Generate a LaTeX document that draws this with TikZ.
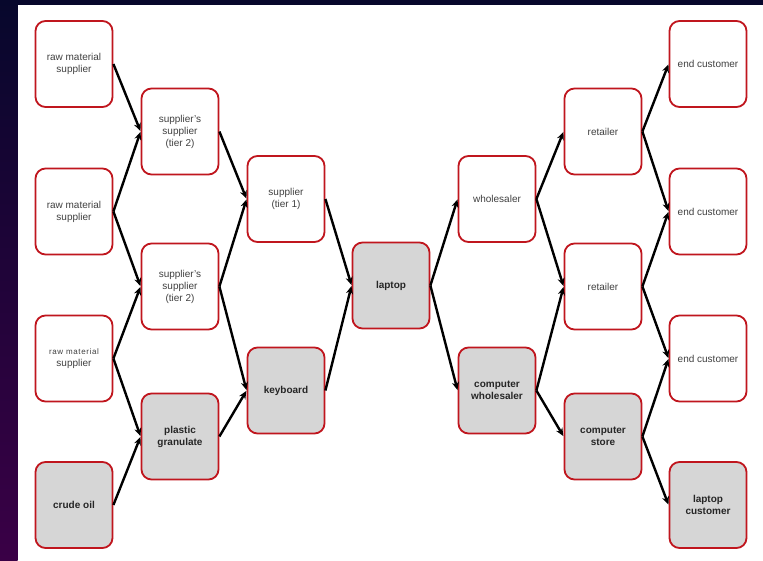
\documentclass[tikz,border=0pt]{standalone}
\usepackage{fontspec}
\setmainfont{Liberation Sans}
\usetikzlibrary{arrows.meta}
\definecolor{bgnavy}{HTML}{07072C}
\definecolor{bgpurple}{HTML}{3A0046}
\definecolor{boxred}{HTML}{C0161E}
\definecolor{boxgray}{HTML}{D6D6D6}
\definecolor{txtgray}{HTML}{404040}
\tikzset{
  wbox/.style={draw=boxred, line width=1.8pt, rounded corners=10pt, fill=white,
    minimum width=77pt, minimum height=86pt, inner sep=2pt, align=center,
    text=txtgray, font=\fontsize{10}{12}\selectfont},
  gbox/.style={wbox, fill=boxgray, text=black!85, font=\fontsize{10}{12}\selectfont\bfseries},
  arr/.style={line width=2.4pt, -{Stealth[length=8pt,width=7pt]}, shorten >=0.5pt}
}
\begin{document}
\begin{tikzpicture}[x=1pt,y=1pt]
\useasboundingbox (0,0) rectangle (763,-560);
\shade[top color=bgnavy, bottom color=bgpurple] (0,0) rectangle (17.5,-560);
\fill[bgnavy] (0,0) rectangle (763,-5);
\fill[white] (17.5,-5) rectangle (763,-560);
% column 1
\node[wbox] (r1) at (74,-64) {raw material\\supplier};
\node[wbox] (r2) at (74,-211.5) {raw material\\supplier};
\node[wbox] (r3) at (74,-358.5) {{\fontsize{8}{10}\selectfont\addfontfeature{LetterSpace=8}raw material}\\supplier};
\node[gbox] (co) at (74,-505) {crude oil};
% column 2
\node[wbox] (s1) at (180,-131.5) {supplier's\\supplier\\(tier 2)};
\node[wbox] (s2) at (180,-286.5) {supplier's\\supplier\\(tier 2)};
\node[gbox] (pg) at (180,-436.5) {plastic\\granulate};
% column 3
\node[wbox] (t1) at (286,-199) {supplier\\(tier 1)};
\node[gbox] (kb) at (286,-390.5) {keyboard};
% column 4
\node[gbox] (lp) at (391,-285.5) {laptop};
% column 5
\node[wbox] (ws) at (497,-199) {wholesaler};
\node[gbox] (cw) at (497,-390.5) {computer\\wholesaler};
% column 6
\node[wbox] (re1) at (603,-131.5) {retailer};
\node[wbox] (re2) at (603,-286.5) {retailer};
\node[gbox] (cs) at (603,-436.5) {computer\\store};
% column 7
\node[wbox] (e1) at (708,-64) {end customer};
\node[wbox] (e2) at (708,-211.5) {end customer};
\node[wbox] (e3) at (708,-358.5) {end customer};
\node[gbox] (lc) at (708,-505) {laptop\\customer};
% connectors
\draw[arr] (r1.east) -- (s1.west);
\draw[arr] (r2.east) -- (s1.west);
\draw[arr] (r2.east) -- (s2.west);
\draw[arr] (r3.east) -- (s2.west);
\draw[arr] (r3.east) -- (pg.west);
\draw[arr] (co.east) -- (pg.west);
\draw[arr] (s1.east) -- (t1.west);
\draw[arr] (s2.east) -- (t1.west);
\draw[arr] (s2.east) -- (kb.west);
\draw[arr] (pg.east) -- (kb.west);
\draw[arr] (t1.east) -- (lp.west);
\draw[arr] (kb.east) -- (lp.west);
\draw[arr] (lp.east) -- (ws.west);
\draw[arr] (lp.east) -- (cw.west);
\draw[arr] (ws.east) -- (re1.west);
\draw[arr] (ws.east) -- (re2.west);
\draw[arr] (cw.east) -- (re2.west);
\draw[arr] (cw.east) -- (cs.west);
\draw[arr] (re1.east) -- (e1.west);
\draw[arr] (re1.east) -- (e2.west);
\draw[arr] (re2.east) -- (e2.west);
\draw[arr] (re2.east) -- (e3.west);
\draw[arr] (cs.east) -- (e3.west);
\draw[arr] (cs.east) -- (lc.west);
\end{tikzpicture}
\end{document}
